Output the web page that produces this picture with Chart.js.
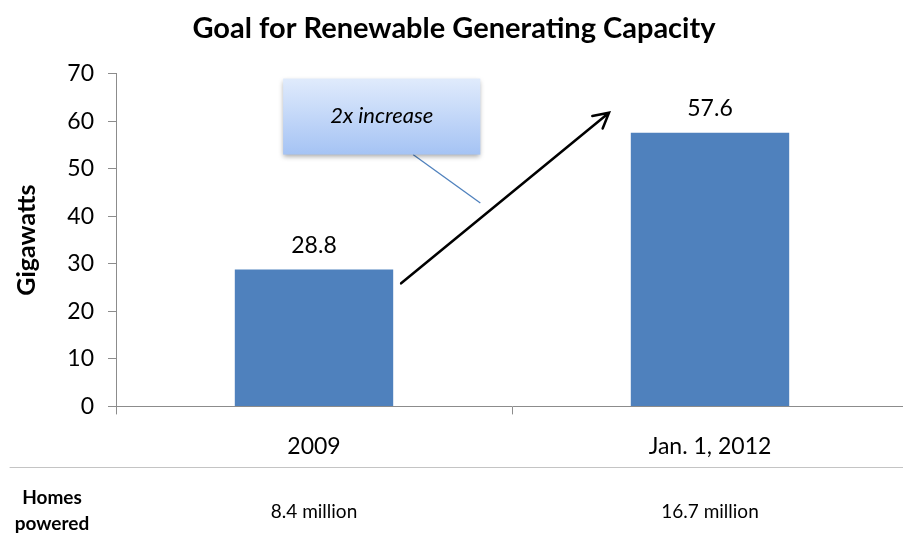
<!DOCTYPE html>
<html>
<head>
<meta charset="utf-8">
<script src="https://cdn.jsdelivr.net/npm/chart.js@4/dist/chart.umd.min.js"></script>
<style>
  html, body { margin: 0; padding: 0; background: #fff; overflow: hidden; }
  #wrap { width: 910px; height: 535px; position: relative; }
</style>
</head>
<body>
<div id="wrap"><canvas id="chart"></canvas></div>
<script>
const categories = ['2009', 'Jan. 1, 2012'];
const capacity = [28.8, 57.6];
const homesPowered = ['8.4 million', '16.7 million'];
const yTicks = [0, 10, 20, 30, 40, 50, 60, 70];

const FONT = 'Lato, "Open Sans", sans-serif';

// labels above bars, callout, arrow and the "Homes powered" row
const extras = {
    id: 'extras',
    afterDatasetsDraw(chart) {
        const ctx = chart.ctx;
        const x = chart.scales.x, y = chart.scales.y;
        const meta = chart.getDatasetMeta(0);

        ctx.save();
        ctx.fillStyle = '#000';
        ctx.font = '23px ' + FONT;
        ctx.textAlign = 'center';
        ctx.textBaseline = 'alphabetic';
        meta.data.forEach((bar, i) => {
            ctx.fillText(capacity[i].toFixed(1), bar.x, bar.y - 17);
        });

        // connector from callout
        ctx.strokeStyle = '#4f81bd';
        ctx.lineWidth = 1.3;
        ctx.beginPath();
        ctx.moveTo(x.getPixelForValue(0.25), y.getPixelForValue(53));
        ctx.lineTo(x.getPixelForValue(0.42), y.getPixelForValue(42.8));
        ctx.stroke();

        // callout box
        const bx = x.getPixelForValue(-0.078), bx2 = x.getPixelForValue(0.42);
        const by = y.getPixelForValue(69), by2 = y.getPixelForValue(53);
        const grad = ctx.createLinearGradient(0, by, 0, by2);
        grad.addColorStop(0, '#e0ebfc');
        grad.addColorStop(1, '#a5c3f4');
        ctx.save();
        ctx.shadowColor = 'rgba(0,0,0,0.35)';
        ctx.shadowBlur = 5;
        ctx.shadowOffsetY = 2;
        ctx.fillStyle = grad;
        ctx.fillRect(bx, by, bx2 - bx, by2 - by);
        ctx.restore();
        ctx.fillStyle = '#000';
        ctx.font = 'italic 22px ' + FONT;
        ctx.textBaseline = 'middle';
        ctx.fillText('2x increase', (bx + bx2) / 2, (by + by2) / 2 - 1);

        // arrow
        const ax1 = x.getPixelForValue(0.22), ay1 = y.getPixelForValue(25.9);
        const ax2 = x.getPixelForValue(0.745), ay2 = y.getPixelForValue(61.8);
        ctx.strokeStyle = '#000';
        ctx.lineWidth = 2.5;
        ctx.lineCap = 'round';
        ctx.beginPath();
        ctx.moveTo(ax1, ay1);
        ctx.lineTo(ax2, ay2);
        const ang = Math.atan2(ay2 - ay1, ax2 - ax1);
        const head = 17;
        ctx.moveTo(ax2 - head * Math.cos(ang - 0.5), ay2 - head * Math.sin(ang - 0.5));
        ctx.lineTo(ax2, ay2);
        ctx.lineTo(ax2 - head * Math.cos(ang + 0.5), ay2 - head * Math.sin(ang + 0.5));
        ctx.stroke();

        // table row below the axis
        ctx.strokeStyle = '#c4c4c4';
        ctx.lineWidth = 1;
        ctx.beginPath();
        ctx.moveTo(10, 467.5);
        ctx.lineTo(chart.width, 467.5);
        ctx.stroke();

        ctx.fillStyle = '#000';
        ctx.textBaseline = 'middle';
        ctx.font = 'bold 19px ' + FONT;
        ctx.fillText('Homes', 52, 498);
        ctx.fillText('powered', 52, 524);
        ctx.font = '19px ' + FONT;
        homesPowered.forEach((h, i) => {
            ctx.fillText(h, x.getPixelForValue(i), 512);
        });
        ctx.restore();
    }
};

new Chart(document.getElementById('chart'), {
    type: 'bar',
    data: {
        labels: categories,
        datasets: [{
            data: capacity,
            backgroundColor: '#4f81bd',
            borderWidth: 0,
            barPercentage: 0.4,
            categoryPercentage: 1
        }]
    },
    options: {
        responsive: true,
        maintainAspectRatio: false,
        animation: false,
        layout: { padding: { left: 0, right: 2, top: 0, bottom: 57 } },
        plugins: {
            legend: { display: false },
            tooltip: { enabled: false },
            title: {
                display: true,
                text: 'Goal for Renewable Generating Capacity',
                color: '#000',
                font: { family: FONT, size: 29, weight: 'bold' },
                padding: { top: 11, bottom: 28 }
            }
        },
        scales: {
            x: {
                grid: { display: true, drawOnChartArea: false, offset: true, tickLength: 8, color: '#8c8c8c' },
                border: { color: '#8c8c8c' },
                ticks: { color: '#000', font: { family: FONT, size: 23 }, padding: 18 }
            },
            y: {
                min: 0,
                max: 70,
                afterBuildTicks: s => { s.ticks = yTicks.map(v => ({ value: v })); },
                afterFit: s => { s.width = 116; },
                grid: { display: true, drawOnChartArea: false, tickLength: 8, color: '#8c8c8c' },
                border: { color: '#8c8c8c' },
                ticks: { color: '#000', font: { family: FONT, size: 23 }, padding: 14 },
                title: {
                    display: true,
                    text: 'Gigawatts',
                    color: '#000',
                    font: { family: FONT, size: 25, weight: 'bold' },
                    padding: { top: 12, bottom: 0 }
                }
            }
        }
    },
    plugins: [extras]
});
</script>
</body>
</html>
